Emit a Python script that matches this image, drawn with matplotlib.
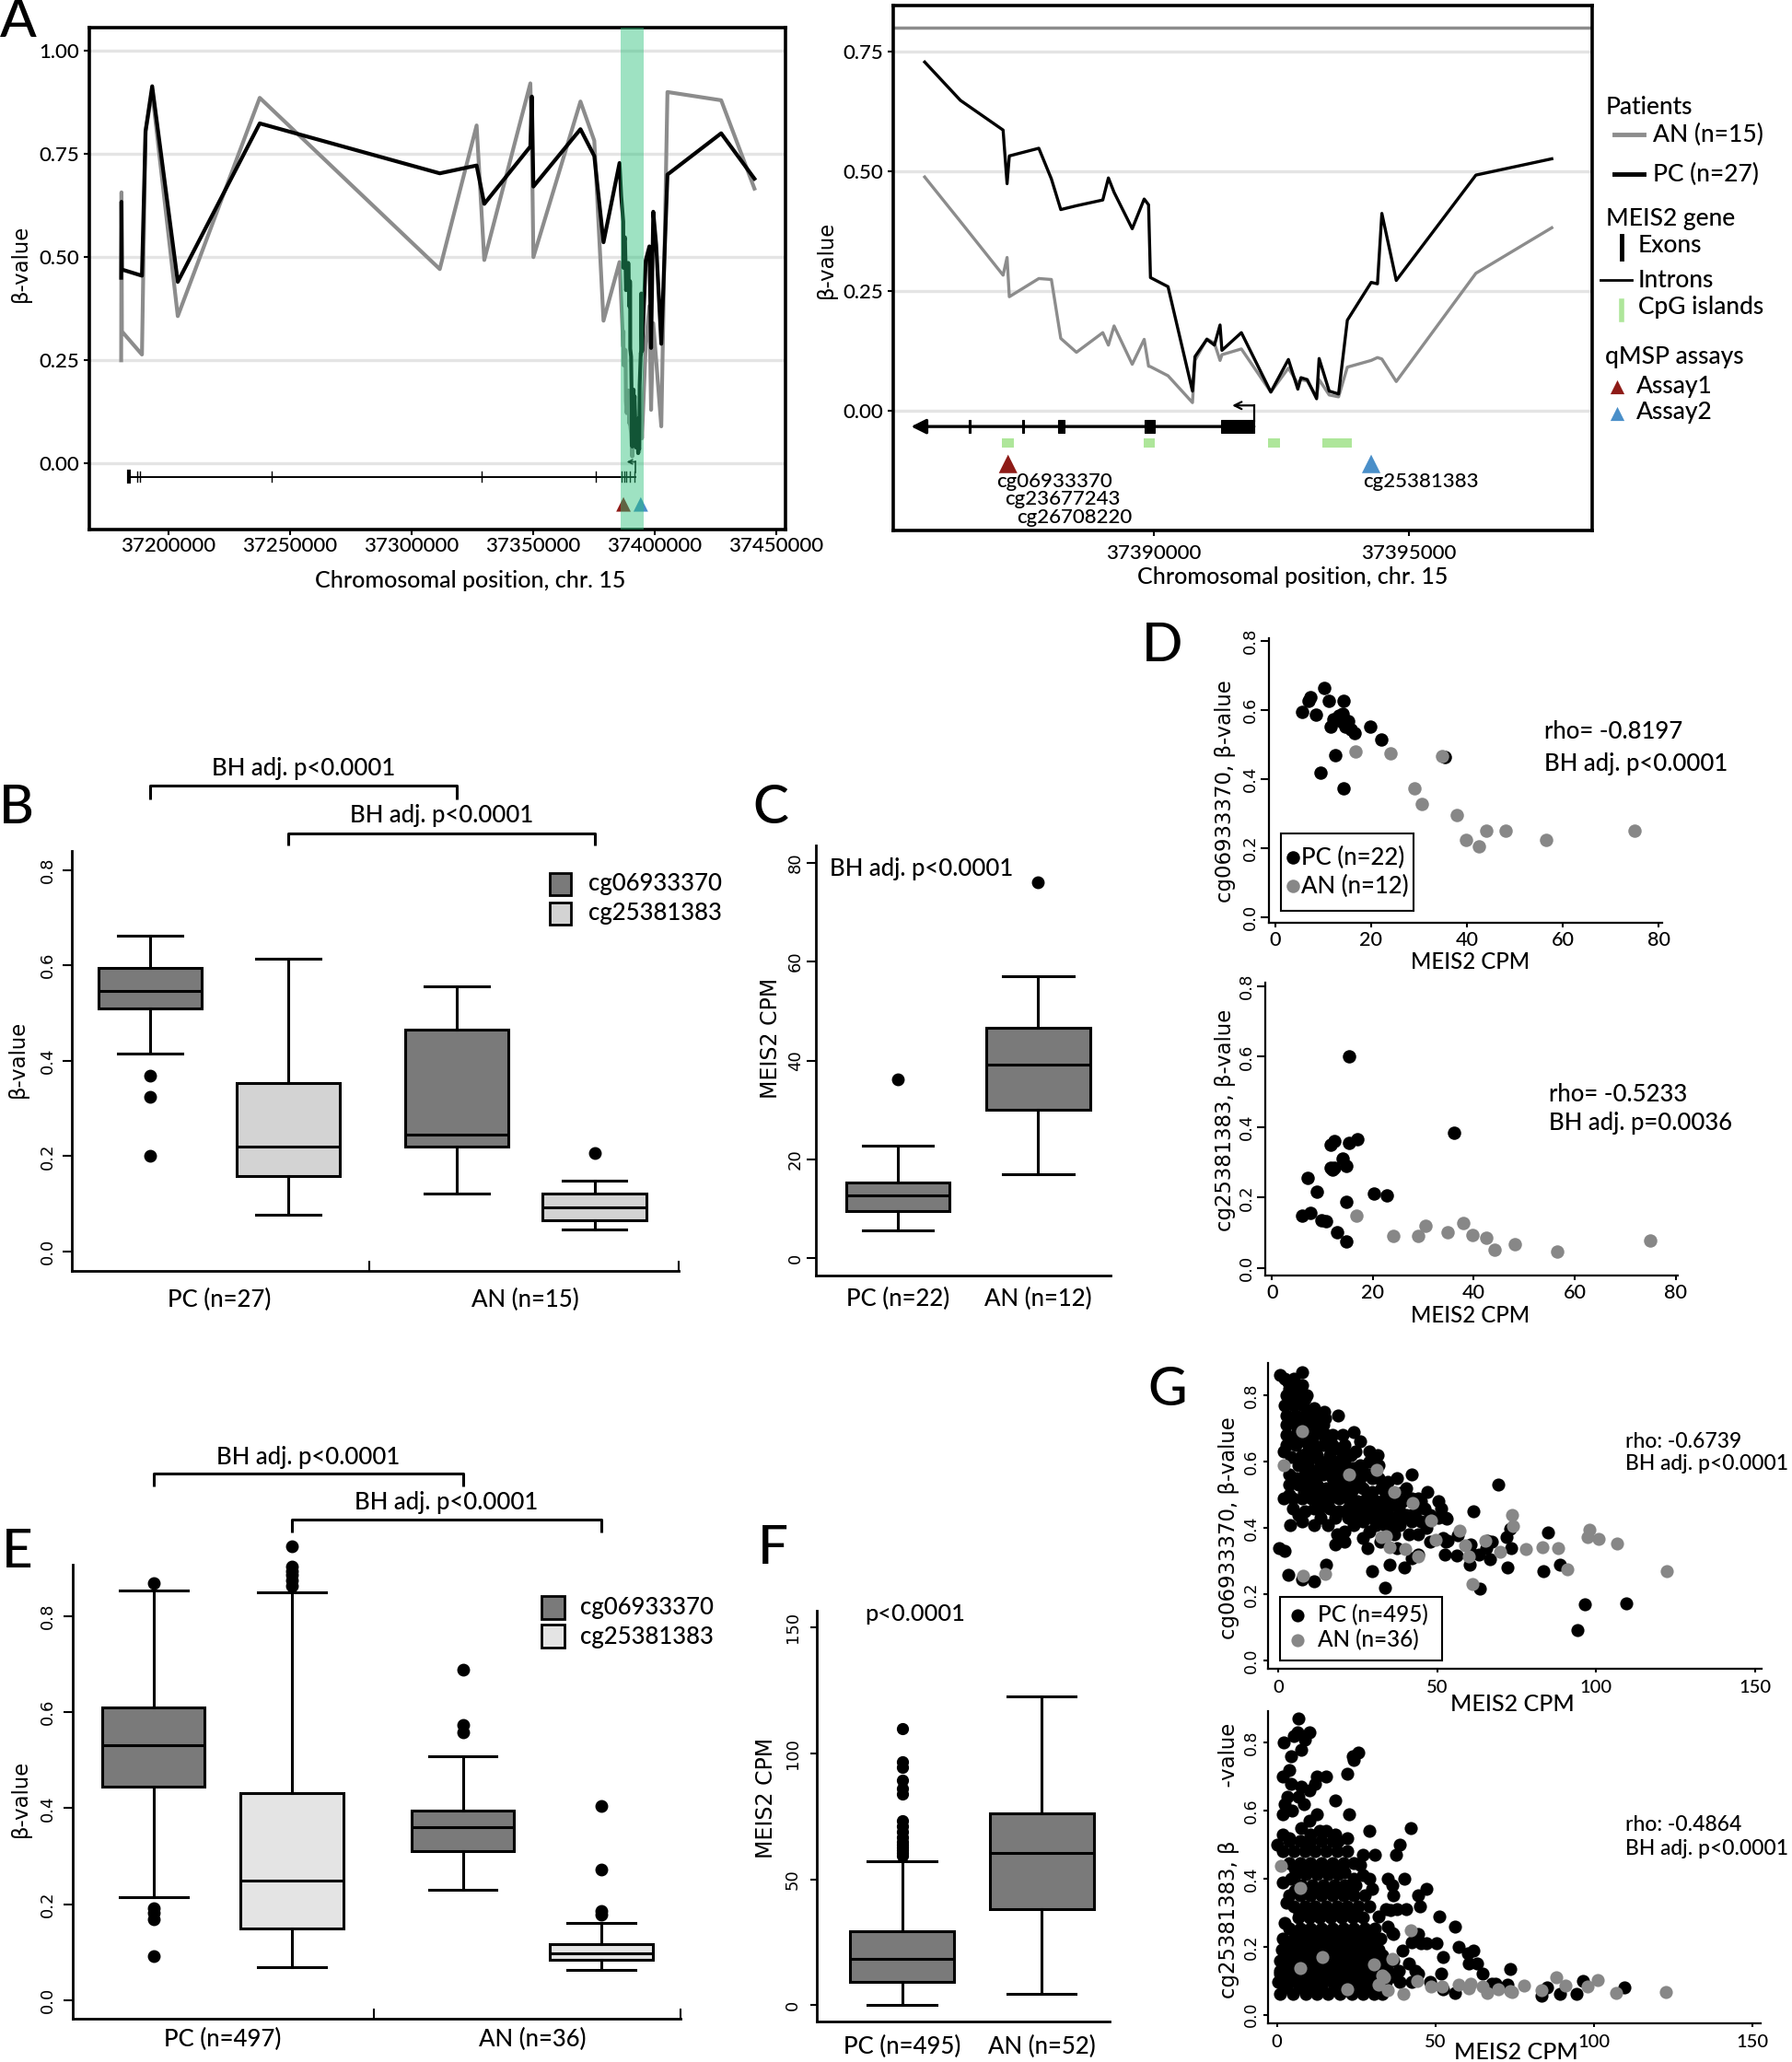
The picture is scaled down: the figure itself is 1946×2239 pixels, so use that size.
import matplotlib
matplotlib.use('Agg')
import matplotlib.pyplot as plt
from matplotlib import font_manager
from matplotlib.patches import Rectangle


def _has(name):
    try:
        font_manager.findfont(font_manager.FontProperties(family=name), fallback_to_default=False)
        return True
    except Exception:
        return False


HUM = ['Lato', 'DejaVu Sans'] if _has('Lato') else ['DejaVu Sans']
DV = ['DejaVu Sans']
plt.rcParams['font.family'] = HUM
plt.rcParams['font.weight'] = 'medium'

# ======================= DATA =======================
# ---- Panel A: 450K probes along MEIS2, chr. 15 ----
probe_pos = [37180500, 37180630, 37180800, 37189050, 37190530, 37193260, 37203790, 37237500,
             37311570, 37326730, 37329880, 37348830, 37349460, 37350090, 37369450, 37375140, 37378930,
             37385516, 37386216, 37387052, 37387130, 37387174, 37387752, 37387998, 37388182, 37388489,
             37389005, 37389115, 37389226, 37389582, 37389816, 37389902, 37389939, 37390283, 37390762,
             37390811, 37391044, 37391192, 37391302, 37391339, 37391720, 37392297, 37392641, 37392826,
             37392887, 37393010, 37393194, 37393243, 37393440, 37393624, 37393796, 37394263, 37394386,
             37394472, 37394754, 37396314, 37397801,
             37398500, 37399400, 37400600, 37402700, 37405240, 37427340, 37441020]
pc_beta = [0.45, 0.634, 0.47, 0.455, 0.805, 0.914, 0.44, 0.824, 0.703, 0.722, 0.629, 0.768, 0.889,
           0.671, 0.81, 0.745, 0.536,
           0.728, 0.648, 0.586, 0.474, 0.532, 0.548, 0.484, 0.420, 0.428, 0.440, 0.486, 0.456, 0.380,
           0.442, 0.430, 0.278, 0.259, 0.041, 0.113, 0.149, 0.137, 0.179, 0.126, 0.163, 0.039, 0.107,
           0.045, 0.069, 0.065, 0.025, 0.109, 0.041, 0.035, 0.189, 0.268, 0.265, 0.412, 0.272, 0.492, 0.526,
           0.28, 0.61, 0.53, 0.29, 0.70, 0.80, 0.69]
an_beta = [0.25, 0.657, 0.32, 0.264, 0.805, 0.90, 0.357, 0.886, 0.471, 0.819, 0.493, 0.921, 0.78,
           0.50, 0.877, 0.782, 0.346,
           0.488, 0.395, 0.283, 0.320, 0.238, 0.276, 0.274, 0.151, 0.122, 0.163, 0.137, 0.177, 0.097,
           0.149, 0.093, 0.092, 0.073, 0.017, 0.105, 0.150, 0.141, 0.105, 0.117, 0.129, 0.039, 0.089,
           0.057, 0.065, 0.062, 0.029, 0.065, 0.033, 0.029, 0.091, 0.105, 0.111, 0.108, 0.061, 0.287, 0.382,
           0.13, 0.34, 0.25, 0.09, 0.90, 0.88, 0.666]
meis2_exons = [(37183300, 37184300), (37186930, 37186970), (37188400, 37188440), (37242430, 37242470),
               (37328780, 37328820), (37375730, 37375770), (37386380, 37386420), (37387425, 37387465),
               (37388130, 37388250), (37389816, 37390025), (37391314, 37391966)]
meis2_tss = 37391966
cpg_islands = [(37387027, 37387260), (37389804, 37390025), (37392236, 37392469), (37393305, 37393882)]
assay_pos = [37387150, 37394263]
probe_labels = ['cg06933370', 'cg23677243', 'cg26708220', 'cg25381383']
probe_label_pos = [37386917, 37387089, 37387322, 37394103]
zoom_region = (37385870, 37395340)

# ---- Panel B: beta values (box order: PC-cg069, PC-cg253, AN-cg069, AN-cg253) ----
b_whislo = [0.416, 0.078, 0.122, 0.046]
b_q1 = [0.510, 0.158, 0.220, 0.066]
b_med = [0.546, 0.220, 0.245, 0.093]
b_q3 = [0.594, 0.354, 0.465, 0.121]
b_whishi = [0.662, 0.614, 0.556, 0.148]
b_fliers = [[0.369, 0.325, 0.201], [], [], [0.206]]
b_groups = ['PC (n=27)', 'AN (n=15)']

# ---- Panel C: MEIS2 CPM ----
c_whislo = [5.7, 16.9]
c_q1 = [9.5, 30.0]
c_med = [12.7, 39.1]
c_q3 = [15.3, 46.7]
c_whishi = [22.7, 57.1]
c_fliers = [[36.2], [76.0]]
c_groups = ['PC (n=22)', 'AN (n=12)']

# ---- Panel D: correlations ----
d1_pc_cpm = [5.6, 6.9, 7.4, 8.4, 10.2, 11.2, 11.5, 12.1, 12.6, 13.6, 14.0, 14.3, 14.3, 14.7, 15.2,
             16.6, 19.9, 22.2, 9.5, 35.4, 13.3, 15.7]
d1_pc_beta = [0.595, 0.628, 0.637, 0.586, 0.664, 0.628, 0.553, 0.573, 0.469, 0.569, 0.590, 0.628,
              0.374, 0.553, 0.567, 0.533, 0.551, 0.515, 0.420, 0.465, 0.583, 0.543]
d2_pc_cpm = [6.0, 7.6, 7.1, 8.9, 9.9, 10.7, 11.6, 11.6, 12.4, 12.4, 12.9, 14.0, 14.7, 14.7, 14.7,
             15.3, 15.3, 16.9, 20.3, 22.7, 36.0, 12.0]
d2_pc_beta = [0.149, 0.156, 0.257, 0.216, 0.137, 0.133, 0.284, 0.351, 0.360, 0.284, 0.103, 0.311,
              0.289, 0.189, 0.076, 0.356, 0.600, 0.367, 0.211, 0.207, 0.383, 0.280]
d_an_cpm = [16.7, 24.1, 29.0, 30.5, 34.8, 37.9, 39.8, 42.5, 44.1, 48.1, 56.5, 75.0]
d1_an_beta = [0.481, 0.476, 0.374, 0.327, 0.468, 0.296, 0.225, 0.205, 0.251, 0.251, 0.225, 0.251]
d2_an_beta = [0.149, 0.091, 0.091, 0.120, 0.103, 0.129, 0.093, 0.087, 0.053, 0.067, 0.047, 0.077]

# ---- Panel E: TCGA beta values ----
e_whislo = [0.215, 0.068, 0.229, 0.063]
e_q1 = [0.444, 0.149, 0.311, 0.085]
e_med = [0.531, 0.250, 0.360, 0.097]
e_q3 = [0.610, 0.432, 0.395, 0.116]
e_whishi = [0.854, 0.850, 0.509, 0.160]
e_fliers = [[0.869, 0.191, 0.182, 0.169, 0.091],
            [0.863, 0.874, 0.885, 0.894, 0.903, 0.945],
            [0.558, 0.573, 0.689],
            [0.179, 0.185, 0.272, 0.404]]
e_groups = ['PC (n=497)', 'AN (n=36)']

# ---- Panel F: TCGA MEIS2 CPM ----
f_whislo = [0.2, 4.5]
f_q1 = [9.4, 38.3]
f_med = [18.3, 60.6]
f_q3 = [29.3, 76.2]
f_whishi = [57.3, 122.6]
f_fliers = [[59.4, 60.6, 61.5, 62.7, 63.8, 64.9, 66.7, 68.8, 71.0, 73.4, 83.7, 85.9, 89.5, 94.5,
             96.6, 109.8], []]
f_groups = ['PC (n=495)', 'AN (n=52)']

# ---- Panel G: TCGA correlations (MEIS2 CPM, beta) ----
g1_pc = [
    (7.4, .87), (0.7, .86), (3.1, .84), (7.4, .83), (4.5, .81), (8.4, .79), (3.6, .78), (14.4, .75),
    (18.8, .74), (9.8, .75), (2.6, .74), (5.5, .73), (11.3, .72), (13.2, .70), (23.8, .69), (20.4, .68),
    (25.7, .66), (3.6, .67), (15.1, .68), (20.9, .65), (24.3, .63), (28.6, .63), (31.2, .62), (1.6, .63),
    (19.0, .64), (31.5, .59), (3.6, .56), (7.4, .62), (10.3, .61), (13.2, .59), (16.1, .62), (17.1, .57),
    (20.9, .60), (23.8, .58), (26.7, .57), (28.6, .60), (29.6, .55), (34.4, .54), (37.3, .55), (42.1, .56),
    (40.2, .52), (47.0, .51), (44.1, .49), (50.3, .48), (51.3, .46), (52.7, .43), (50.3, .43), (3.6, .50),
    (1.6, .49), (4.5, .46), (6.5, .44), (3.9, .41), (7.4, .42), (11.3, .41), (15.6, .41), (13.2, .43),
    (18.0, .43), (21.9, .46), (24.8, .45), (26.7, .42), (29.6, .43), (31.5, .44), (34.4, .46), (37.3, .47),
    (40.2, .44), (43.1, .43), (46.0, .46), (38.3, .41), (41.2, .38), (44.1, .38), (36.4, .38), (33.5, .41),
    (28.6, .39), (26.7, .37), (20.9, .39), (18.5, .38), (20.9, .36), (18.0, .35), (28.2, .34), (32.0, .36),
    (37.3, .34), (42.1, .31), (44.1, .32), (47.9, .36), (51.8, .37), (52.7, .36), (34.9, .29), (39.7, .28),
    (29.6, .27), (33.5, .22), (0.2, .34), (2.1, .33), (3.1, .26), (11.3, .24), (15.1, .29), (60.5, .35),
    (65.3, .34), (67.2, .36), (46.5, .40), (45.0, .42), (42.1, .42), (7.4, .245),
    (2.1, .85), (5.0, .85), (3.6, .82), (6.5, .82), (2.6, .80), (5.5, .80), (8.9, .80), (2.1, .77),
    (5.0, .77), (7.9, .77), (11.3, .76), (5.5, .74), (8.4, .74), (11.8, .74), (14.7, .73), (2.6, .71),
    (5.5, .71), (8.4, .71), (11.3, .70), (14.2, .71), (2.6, .68), (5.5, .68), (8.4, .68), (11.3, .68),
    (14.2, .68), (17.1, .68), (2.6, .65), (5.5, .65), (8.4, .66), (11.3, .65), (14.2, .65), (17.1, .65),
    (20.0, .63), (22.9, .62), (6.5, .59), (9.4, .59), (12.2, .62), (15.1, .60), (18.0, .60), (20.0, .58),
    (22.9, .57), (25.7, .59), (5.5, .55), (8.4, .56), (11.3, .56), (14.2, .56), (17.1, .55), (20.0, .55),
    (22.9, .55), (25.7, .55), (28.6, .56), (31.5, .55), (3.6, .53), (6.5, .53), (9.4, .53), (12.2, .53),
    (15.1, .52), (18.0, .52), (20.9, .52), (23.8, .52), (26.7, .52), (29.6, .51), (32.5, .52), (35.4, .51),
    (4.5, .49), (7.4, .49), (10.3, .49), (13.2, .49), (16.1, .49), (19.0, .49), (21.9, .49), (24.8, .48),
    (27.7, .49), (30.6, .48), (33.5, .49), (36.4, .49), (39.2, .48), (42.1, .49), (45.0, .48), (8.4, .45),
    (11.3, .46), (16.1, .46), (19.0, .45), (21.9, .43), (24.8, .43), (27.7, .45), (30.6, .46), (33.5, .43),
    (36.4, .43), (39.2, .43), (42.1, .44), (47.9, .44), (35.4, .41), (30.6, .41), (23.8, .41),
    (4.0, .615), (7.0, .60), (10.0, .575), (13.0, .575), (16.0, .58), (19.0, .575), (9.5, .635),
    (6.8, .695), (9.8, .69), (4.0, .725), (7.0, .725), (10.0, .72), (3.8, .79), (6.8, .79),
    (8.0, .505), (11.5, .51), (17.5, .505), (23.0, .505), (28.5, .50), (34.0, .505), (38.5, .505),
    (13.5, .465), (25.5, .465), (29.0, .465), (32.5, .465), (38.0, .46), (44.0, .46),
    (69.1, .531), (61.4, .451), (52.3, .319), (56.1, .318), (56.4, .377), (60.3, .290), (60.9, .324),
    (63.5, .216), (63.0, .319), (65.6, .361), (66.7, .306), (72.2, .282), (71.7, .372), (73.1, .398),
    (73.3, .340), (83.4, .270), (84.8, .386), (88.5, .289), (96.5, .169), (94.2, .093), (109.5, .173),
    (53.2, .361), (52.9, .429)]
g1_an = [
    (7.4, .692), (1.7, .589), (22.4, .562), (31.1, .575), (36.4, .510), (42.2, .474), (48.2, .423),
    (32.5, .374), (33.8, .376), (34.9, .342), (40.0, .337), (44.1, .314), (7.9, .256), (14.7, .261),
    (49.4, .364), (57.1, .391), (58.7, .347), (60.0, .315), (61.1, .230), (65.1, .361), (69.9, .329),
    (73.6, .438), (73.8, .405), (77.9, .336), (83.2, .343), (88.0, .340), (91.0, .276), (97.9, .395),
    (97.3, .373), (100.8, .368), (106.6, .352), (122.2, .269)]
g2_pc = [
    (6.8, .87), (5.4, .82), (6.6, .83), (10.2, .83), (8.8, .81), (7.8, .78), (2.2, .80), (4.4, .76),
    (3.9, .72), (2.0, .70), (4.4, .68), (7.8, .67), (10.2, .66), (12.6, .70), (15.5, .70), (12.1, .68),
    (3.4, .64), (6.8, .64), (8.6, .62), (2.5, .62), (2.0, .59), (4.9, .60), (12.6, .59), (10.2, .57),
    (22.3, .71), (23.8, .76), (25.7, .77), (24.2, .75), (18.4, .63), (22.8, .59), (29.1, .54), (42.2, .55),
    (38.8, .50), (37.6, .47), (31.0, .47), (27.2, .47), (26.2, .44), (19.4, .51), (22.3, .52), (15.5, .54),
    (18.4, .53), (10.7, .53), (13.6, .54), (7.8, .55), (2.0, .53), (0.1, .50), (3.9, .52), (2.0, .39),
    (4.4, .40), (34.9, .40), (36.4, .38), (36.8, .35), (40.2, .40), (47.0, .37), (44.6, .35), (45.1, .32),
    (34.4, .31), (37.8, .31), (40.7, .31), (51.2, .29), (56.2, .26), (50.4, .21), (57.2, .20), (60.1, .18),
    (62.0, .19), (52.3, .17), (63.0, .15), (64.9, .12), (67.8, .09), (70.2, .08), (2.5, .27), (3.0, .33),
    (30.1, .37), (29.1, .40), (27.2, .41), (24.2, .40), (21.3, .42), (32.0, .29), (34.9, .26), (36.4, .24),
    (39.7, .19), (41.7, .15), (43.6, .13), (45.5, .21), (47.0, .21), (36.8, .16), (1.1, .12),
    (73.6, .135), (51.8, .120), (72.6, .088), (68.8, .091), (85.2, .079), (89.1, .061), (94.4, .061),
    (96.4, .100), (109.4, .081), (83.3, .056), (56.2, .065), (52.3, .074), (48.4, .097), (44.6, .120),
    (44.6, .237), (42.6, .214), (36.8, .237), (35.9, .309), (60.5, .151),
    (3.9, .51), (7.3, .51), (10.7, .51), (14.1, .51), (17.5, .51),
    (2.0, .48), (5.4, .48), (8.8, .48), (12.1, .48), (15.5, .48), (18.9, .48), (22.3, .48),
    (3.9, .445), (7.3, .445), (10.7, .445), (14.1, .445), (17.5, .445), (20.9, .445), (24.2, .445),
    (5.9, .413), (9.2, .413), (12.6, .413), (16.0, .413), (19.4, .413),
    (7.8, .382), (11.2, .382), (14.6, .382), (18.0, .382), (21.3, .382), (24.7, .382),
    (3.9, .35), (7.3, .35), (10.7, .35), (14.1, .35), (17.5, .35), (20.9, .35), (24.2, .35), (27.6, .35),
    (5.4, .318), (8.8, .318), (12.1, .318), (15.5, .318), (18.9, .318), (22.3, .318), (25.7, .318), (29.1, .318),
    (6.8, .287), (10.2, .287), (13.6, .287), (17.0, .287), (20.4, .287), (23.8, .287), (27.2, .287),
    (3.9, .255), (7.3, .255), (10.7, .255), (14.1, .255), (17.5, .255), (20.9, .255), (24.2, .255),
    (27.6, .255), (31.0, .255),
    (2.0, .224), (5.4, .224), (8.8, .224), (12.1, .224), (15.5, .224), (18.9, .224), (22.3, .224),
    (25.7, .224), (29.1, .224), (32.5, .224),
    (1.5, .192), (4.9, .192), (8.3, .192), (11.7, .192), (15.1, .192), (18.4, .192), (21.8, .192),
    (25.2, .192), (28.6, .192), (32.0, .192),
    (1.0, .16), (4.4, .16), (7.8, .16), (11.2, .16), (14.6, .16), (18.0, .16), (21.3, .16), (24.7, .16),
    (28.1, .16), (31.5, .16), (34.9, .16),
    (1.0, .129), (4.4, .129), (7.8, .129), (11.2, .129), (14.6, .129), (18.0, .129), (21.3, .129),
    (24.7, .129), (28.1, .129), (31.5, .129), (34.9, .129), (38.3, .129),
    (0.5, .097), (3.9, .097), (7.3, .097), (10.7, .097), (14.1, .097), (17.5, .097), (20.9, .097),
    (24.2, .097), (27.6, .097), (31.0, .097), (34.4, .097), (38.8, .097), (42.6, .097),
    (3.0, .08), (7.0, .08), (10.5, .08), (14.0, .08), (18.0, .08), (21.5, .08), (25.0, .08), (29.0, .08),
    (32.0, .08),
    (1.0, .062), (5.0, .062), (9.0, .062), (12.5, .062), (16.0, .062), (20.0, .062), (23.5, .062),
    (27.0, .062), (30.5, .062), (33.3, .062),
    (5.6, .43), (9.0, .43), (12.4, .43), (15.8, .43), (19.2, .43),
    (5.6, .366), (9.0, .366), (12.4, .366), (15.8, .366), (19.2, .366), (22.6, .366),
    (7.1, .30), (10.5, .30), (13.9, .30), (17.3, .30), (20.7, .30), (24.1, .30),
    (5.6, .24), (9.0, .24), (12.4, .24), (15.8, .24), (19.2, .24), (22.6, .24), (26.0, .24), (29.4, .24),
    (3.2, .208), (6.6, .208), (10.0, .208), (13.4, .208), (16.8, .208), (20.2, .208), (23.6, .208),
    (27.0, .208), (30.4, .208),
    (2.7, .176), (6.1, .176), (9.5, .176), (12.9, .176), (16.3, .176), (19.7, .176), (23.1, .176),
    (26.5, .176), (29.9, .176), (33.3, .176),
    (2.7, .145), (6.1, .145), (9.5, .145), (12.9, .145), (16.3, .145), (19.7, .145), (23.1, .145),
    (26.5, .145), (29.9, .145), (33.3, .145),
    (2.2, .113), (5.6, .113), (9.0, .113), (12.4, .113), (15.8, .113), (19.2, .113), (22.6, .113),
    (26.0, .113), (29.4, .113), (32.8, .113), (36.6, .113)]
g2_an = [
    (1.4, .439), (7.3, .373), (42.2, .249), (14.4, .169), (7.5, .138), (30.7, .147), (36.3, .163),
    (33.9, .111), (33.1, .116), (32.0, .088), (34.9, .073), (22.1, .075), (40.0, .061), (44.1, .100),
    (48.5, .083), (57.2, .088), (61.0, .092), (64.9, .083), (66.4, .065), (69.7, .076), (73.6, .070),
    (78.0, .085), (83.3, .073), (88.1, .111), (91.0, .085), (97.8, .083), (101.2, .103), (107.0, .064),
    (122.5, .066), (74.2, .066), (60.5, .078), (52.0, .083)]

# ======================= STYLE =======================
GRAY_LINE = '#8c8c8c'
DARK_BOX = '#7a7a7a'
LIGHT_B = '#d3d3d3'
LIGHT_E = '#e4e4e4'
AN_PT = '#878787'
RED = '#8e1b17'
BLUE = '#4a8fc9'
CPG = '#aee69a'
BAND = (0.16, 0.75, 0.47)
GRID = '#e4e4e4'

W, H = 1946, 2239
fig = plt.figure(figsize=(W / 100, H / 100), dpi=100)
fig.patch.set_facecolor('white')


def add_ax(l, t, r, b):
    return fig.add_axes([l / W, 1 - b / H, (r - l) / W, (b - t) / H])


def open_axes(ax, lw=2.0):
    ax.spines['top'].set_visible(False)
    ax.spines['right'].set_visible(False)
    ax.spines['left'].set_linewidth(lw)
    ax.spines['bottom'].set_linewidth(lw)


def rot_yticks(ax, ticks, labels, size, pad, length):
    ax.set_yticks(ticks)
    ax.set_yticklabels(labels, rotation=90, va='center', family=DV, fontsize=size)
    ax.tick_params(axis='y', length=length, width=1.5, pad=pad)


def draw_boxes(ax, whislo, q1, med, q3, whishi, fliers, positions, width, capw, colors, ms):
    stats = [dict(whislo=whislo[i], q1=q1[i], med=med[i], q3=q3[i], whishi=whishi[i], fliers=fliers[i])
             for i in range(len(med))]
    bp = ax.bxp(stats, positions=positions, widths=width, capwidths=capw, patch_artist=True,
                manage_ticks=False,
                boxprops=dict(edgecolor='black', linewidth=2.2),
                medianprops=dict(color='black', linewidth=2.2),
                whiskerprops=dict(color='black', linewidth=2.2),
                capprops=dict(color='black', linewidth=2.2),
                flierprops=dict(marker='o', markerfacecolor='black', markeredgecolor='black',
                                markersize=ms, linestyle='none'))
    for p, c in zip(bp['boxes'], colors):
        p.set_facecolor(c)
    for f in bp['fliers']:
        f.set_clip_on(False)
    return bp


def bracket(ax, x0, x1, y, leg):
    ax.plot([x0, x0, x1, x1], [y - leg, y, y, y - leg], color='black', lw=2.2, clip_on=False,
            solid_capstyle='butt')


# ======================= PANEL A (left) =======================
a_yt = [0, 0.25, 0.5, 0.75, 1.0]
axL = add_ax(97, 30, 853, 575)
axL.set_xlim(37167400, 37453800)
axL.set_ylim(-0.16, 1.056)
for v in a_yt:
    axL.axhline(v, color=GRID, lw=2.4, zorder=0)
axL.plot(probe_pos, an_beta, color=GRAY_LINE, lw=3.0, zorder=2)
axL.plot(probe_pos, pc_beta, color='black', lw=3.0, zorder=3)
gy = -0.032
axL.plot([meis2_exons[0][0], meis2_tss], [gy, gy], color='black', lw=1.4, zorder=3)
for i, (s, e) in enumerate(meis2_exons):
    axL.plot([(s + e) / 2] * 2, [gy - 0.013, gy + 0.013], color='black', lw=3.0 if i == 0 else 1.0, zorder=3)
axL.plot([meis2_tss, meis2_tss], [gy + 0.01, 0.004], color='black', lw=1.2, zorder=3)
axL.annotate('', xy=(meis2_tss - 3500, 0.004), xytext=(meis2_tss, 0.004),
             arrowprops=dict(arrowstyle='->', lw=1.2, color='black', mutation_scale=8, shrinkA=0, shrinkB=0))
axL.scatter(assay_pos, [-0.099] * 2, marker='^', s=130, c=[RED, BLUE], lw=0, zorder=4)
axL.axvspan(zoom_region[0], zoom_region[1], color=BAND, alpha=0.45, lw=0, zorder=6)
for sp in axL.spines.values():
    sp.set_linewidth(2.6)
axL.set_yticks(a_yt, ['0.00', '0.25', '0.50', '0.75', '1.00'], fontsize=16, family=HUM)
axL.set_xticks([37200000, 37250000, 37300000, 37350000, 37400000, 37450000],
               ['37200000', '37250000', '37300000', '37350000', '37400000', '37450000'],
               fontsize=16, family=HUM)
axL.tick_params(axis='y', length=4, width=1.5, pad=4)
axL.tick_params(axis='x', length=4, width=1.5, pad=2)

# ======================= PANEL A (right) =======================
axR = add_ax(970, 6, 1729, 576)
axR.set_xlim(37384900, 37398592)
axR.set_ylim(-0.25, 0.846)
for v in a_yt[:4]:
    axR.axhline(v, color=GRID, lw=2.4, zorder=0)
axR.axhline(0.80, color=GRAY_LINE, lw=2.5, zorder=1)
sel = [i for i, p in enumerate(probe_pos) if 37385000 <= p <= 37398000]
axR.plot([probe_pos[i] for i in sel], [an_beta[i] for i in sel], color=GRAY_LINE, lw=2.4, zorder=2)
axR.plot([probe_pos[i] for i in sel], [pc_beta[i] for i in sel], color='black', lw=2.4, zorder=3)
gy2 = -0.033
axR.annotate('', xy=(37385250, gy2), xytext=(meis2_tss, gy2),
             arrowprops=dict(arrowstyle='-|>', lw=2.4, color='black', mutation_scale=24, shrinkA=0, shrinkB=0))
for s, e in meis2_exons:
    if e > 37384900:
        axR.add_patch(Rectangle((s, gy2 - 0.014), e - s, 0.028, facecolor='black', edgecolor='black', lw=0.8,
                                zorder=4))
for s, e in cpg_islands:
    axR.add_patch(Rectangle((s, -0.0767), e - s, 0.0192, facecolor=CPG, edgecolor='none', zorder=4))
axR.plot([meis2_tss, meis2_tss], [gy2 + 0.012, 0.011], color='black', lw=1.6, zorder=4)
axR.annotate('', xy=(37391540, 0.011), xytext=(meis2_tss, 0.011),
             arrowprops=dict(arrowstyle='->', lw=1.6, color='black', mutation_scale=14, shrinkA=0, shrinkB=0))
axR.scatter(assay_pos, [-0.111] * 2, marker='^', s=210, c=[RED, BLUE], lw=0, zorder=5)
for lab, xp, yp in zip(probe_labels, probe_label_pos, [-0.149, -0.185, -0.223, -0.149]):
    axR.text(xp, yp, lab, ha='left', va='center', fontsize=16, family=HUM)
for sp in axR.spines.values():
    sp.set_linewidth(2.6)
axR.set_yticks(a_yt[:4], ['0.00', '0.25', '0.50', '0.75'], fontsize=16, family=HUM)
axR.set_xticks([37390000, 37395000], ['37390000', '37395000'], fontsize=16, family=HUM)
axR.tick_params(axis='y', length=4, width=1.5, pad=4)
axR.tick_params(axis='x', length=4, width=1.5, pad=7)

# ======================= PANEL B =======================
axB = add_ax(77.6, 924, 737, 1379.6)
axB.set_xlim(0.518, 2.5)
axB.set_ylim(-0.04, 0.84)
pos4 = [0.775, 1.225, 1.775, 2.225]
draw_boxes(axB, b_whislo, b_q1, b_med, b_q3, b_whishi, b_fliers, pos4, 0.337, 0.21,
           [DARK_BOX, LIGHT_B, DARK_BOX, LIGHT_B], 9)
open_axes(axB)
rot_yticks(axB, [0, .2, .4, .6, .8], ['0.0', '0.2', '0.4', '0.6', '0.8'], 13, 5, 7)
axB.set_xticks([1, 2], b_groups, fontsize=18.5, family=HUM)
axB.set_xticks([1.49, 2.5], minor=True)
axB.tick_params(axis='x', which='major', length=0, pad=14)
axB.tick_params(axis='x', which='minor', direction='in', length=8, width=1.5)
bracket(axB, pos4[0], pos4[2], 0.977, 0.028)
bracket(axB, pos4[1], pos4[3], 0.877, 0.026)
axB.text((pos4[0] + pos4[2]) / 2, 1.012, 'BH adj. p<0.0001', ha='center', va='center', fontsize=18.5,
         family=HUM, clip_on=False)
axB.text((pos4[1] + pos4[3]) / 2, 0.915, 'BH adj. p<0.0001', ha='center', va='center', fontsize=18.5,
         family=HUM, clip_on=False)

# ======================= PANEL C =======================
axC = add_ax(886, 918, 1206, 1385)
axC.set_xlim(0.416, 2.515)
axC.set_ylim(-3.5, 83.5)
draw_boxes(axC, c_whislo, c_q1, c_med, c_q3, c_whishi, c_fliers, [1, 2], 0.737, 0.5,
           [DARK_BOX, DARK_BOX], 9)
open_axes(axC)
rot_yticks(axC, [0, 20, 40, 60, 80], ['0', '20', '40', '60', '80'], 13, 2.5, 7)
axC.set_xticks([1, 2], c_groups, fontsize=18.5, family=HUM)
axC.tick_params(axis='x', length=0, pad=9)

# ======================= PANEL D =======================
axD1 = add_ax(1377.5, 693, 1805, 1002)
axD1.set_xlim(-1.4, 80.7)
axD1.set_ylim(-0.016, 0.808)
axD1.scatter(d1_pc_cpm, d1_pc_beta, s=109, c='black', lw=0, zorder=3)
axD1.scatter(d_an_cpm, d1_an_beta, s=109, c=AN_PT, lw=0, zorder=4)
axD2 = add_ax(1374, 1067, 1822, 1385)
axD2.set_xlim(-1.3, 80.4)
axD2.set_ylim(-0.021, 0.81)
axD2.scatter(d2_pc_cpm, d2_pc_beta, s=109, c='black', lw=0, zorder=3)
axD2.scatter(d_an_cpm, d2_an_beta, s=109, c=AN_PT, lw=0, zorder=4)
for ax in (axD1, axD2):
    open_axes(ax, 1.6)
    rot_yticks(ax, [0, .2, .4, .6, .8], ['0.0', '0.2', '0.4', '0.6', '0.8'], 13, 1.5, 6.5)
    ax.set_xticks([0, 20, 40, 60, 80], ['0', '20', '40', '60', '80'], fontsize=15.5, family=HUM)
    ax.tick_params(axis='x', length=3.6, width=1.5, pad=3)

# ======================= PANEL E =======================
axE = add_ax(79, 1699, 739, 2191.7)
axE.set_xlim(0.515, 2.48)
axE.set_ylim(-0.038, 0.907)
pos4e = [0.776, 1.224, 1.776, 2.224]
draw_boxes(axE, e_whislo, e_q1, e_med, e_q3, e_whishi, e_fliers, pos4e, 0.332, 0.22,
           [DARK_BOX, LIGHT_E, DARK_BOX, LIGHT_E], 9)
open_axes(axE)
rot_yticks(axE, [0, .2, .4, .6, .8], ['0.0', '0.2', '0.4', '0.6', '0.8'], 13, 6, 7)
axE.set_xticks([1, 2], e_groups, fontsize=18.5, family=HUM)
axE.set_xticks([1.488, 2.48], minor=True)
axE.tick_params(axis='x', which='major', length=0, pad=7)
axE.tick_params(axis='x', which='minor', direction='in', length=8, width=1.5)
bracket(axE, pos4e[0], pos4e[2], 1.097, 0.027)
bracket(axE, pos4e[1], pos4e[3], 1.001, 0.027)
axE.text((pos4e[0] + pos4e[2]) / 2, 1.131, 'BH adj. p<0.0001', ha='center', va='center', fontsize=18.5,
         family=HUM, clip_on=False)
axE.text((pos4e[1] + pos4e[3]) / 2, 1.037, 'BH adj. p<0.0001', ha='center', va='center', fontsize=18.5,
         family=HUM, clip_on=False)

# ======================= PANEL F =======================
axF = add_ax(886.7, 1748.6, 1205, 2195)
axF.set_xlim(0.387, 2.488)
axF.set_ylim(-6.5, 156.8)
draw_boxes(axF, f_whislo, f_q1, f_med, f_q3, f_whishi, f_fliers, [1, 2], 0.746, 0.49,
           [DARK_BOX, DARK_BOX], 8.5)
open_axes(axF)
rot_yticks(axF, [0, 50, 100, 150], ['0', '50', '100', '150'], 13, 7, 5)
axF.set_xticks([1, 2], f_groups, fontsize=18.5, family=HUM)
axF.tick_params(axis='x', length=0, pad=11)

# ======================= PANEL G =======================
axG1 = add_ax(1376.6, 1480, 1913, 1812)
axG1.set_xlim(-3.3, 152)
axG1.set_ylim(-0.024, 0.897)
axG2 = add_ax(1376.6, 1858, 1912, 2196.7)
axG2.set_xlim(-2.9, 152.5)
axG2.set_ylim(-0.0245, 0.893)
for ax, pc, an in ((axG1, g1_pc, g1_an), (axG2, g2_pc, g2_an)):
    ax.scatter([p[0] for p in pc], [p[1] for p in pc], s=104, c='black', lw=0, zorder=3)
    ax.scatter([p[0] for p in an], [p[1] for p in an], s=104, c=AN_PT, lw=0, zorder=4)
    open_axes(ax, 1.6)
    rot_yticks(ax, [0, .2, .4, .6, .8], ['0.0', '0.2', '0.4', '0.6', '0.8'], 12.5, 3, 3.6)
    ax.set_xticks([0, 50, 100, 150], ['0', '50', '100', '150'], fontsize=14.5, family=HUM)
    ax.tick_params(axis='x', length=3, width=1.5, pad=5.5)

# ======================= OVERLAY: labels, legends =======================
ov = fig.add_axes([0, 0, 1, 1])
ov.set_xlim(0, W)
ov.set_ylim(H, 0)
ov.axis('off')


def T(x, y, s, size, family=HUM, ha='center', va='center', rot=0):
    ov.text(x, y, s, fontsize=size, family=family, ha=ha, va=va, rotation=rot)


# panel letters
for letter, (x, y) in zip('ABCDEFG', [(19.5, 23), (18, 877), (837, 878), (1262, 701), (18.5, 1685),
                                       (839, 1682), (1268, 1509)]):
    T(x, y, letter, 42)

# A axis labels
T(22, 286, 'β-value', 16.4, DV, rot=90)
T(897, 282, 'β-value', 16.4, DV, rot=90)
T(511, 631, 'Chromosomal position, chr. 15', 18)
T(1404, 626, 'Chromosomal position, chr. 15', 18)

# A legend
T(1744, 116, 'Patients', 19, ha='left')
ov.plot([1753, 1785], [146, 146], color=GRAY_LINE, lw=3.5)
T(1795, 146, 'AN (n=15)', 19, ha='left')
ov.plot([1753, 1785], [189, 189], color='black', lw=3.5)
T(1795, 189, 'PC (n=27)', 19, ha='left')
T(1744, 237, 'MEIS2 gene', 19, ha='left')
ov.plot([1761, 1761], [256, 281], color='black', lw=3.5)
T(1779, 267, 'Exons', 19, ha='left')
ov.plot([1738, 1772], [304, 304], color='black', lw=2)
T(1779, 304, 'Introns', 19, ha='left')
ov.plot([1761, 1761], [327, 347], color=CPG, lw=4)
T(1779, 334, 'CpG islands', 19, ha='left')
T(1743, 388, 'qMSP assays', 19, ha='left')
ov.scatter([1756], [420], marker='^', s=120, c=RED, lw=0)
T(1777, 419, 'Assay1', 19, ha='left')
ov.scatter([1756], [449], marker='^', s=120, c=BLUE, lw=0)
T(1777, 448, 'Assay2', 19, ha='left')

# B labels and legend
T(19, 1150, 'β-value', 16.4, DV, rot=90)
ov.add_patch(Rectangle((597, 948), 23, 24, facecolor=DARK_BOX, edgecolor='black', lw=2))
ov.add_patch(Rectangle((597, 980), 23, 24, facecolor=LIGHT_B, edgecolor='black', lw=2))
T(639, 960, 'cg06933370', 18.5, ha='left')
T(639, 992, 'cg25381383', 18.5, ha='left')

# C labels
T(836.5, 1127, 'MEIS2 CPM', 17, DV, rot=90)
T(1001, 944, 'BH adj. p<0.0001', 18.5)

# D labels
T(1330, 859, 'cg06933370, β-value', 16.4, DV, rot=90)
T(1330, 1216, 'cg25381383, β-value', 16.4, DV, rot=90)
T(1597, 1044, 'MEIS2 CPM', 17.3)
T(1597, 1428, 'MEIS2 CPM', 17.3)
T(1677, 795, 'rho= -0.8197', 18.5, ha='left')
T(1677, 829, 'BH adj. p<0.0001', 18.5, ha='left')
T(1682, 1188, 'rho= -0.5233', 18.5, ha='left')
T(1682, 1219, 'BH adj. p=0.0036', 18.5, ha='left')
ov.add_patch(Rectangle((1390.6, 905), 144, 84, facecolor='white', edgecolor='black', lw=1.5))
ov.scatter([1404], [931], s=109, c='black', lw=0)
ov.scatter([1404], [962], s=109, c=AN_PT, lw=0)
T(1412.6, 931, 'PC (n=22)', 18.5, ha='left')
T(1412.6, 962, 'AN (n=12)', 18.5, ha='left')

# E labels and legend
T(22, 1953, 'β-value', 16.4, DV, rot=90)
ov.add_patch(Rectangle((588, 1733), 25, 24.5, facecolor=DARK_BOX, edgecolor='black', lw=2))
ov.add_patch(Rectangle((588, 1764), 25, 25, facecolor=LIGHT_E, edgecolor='black', lw=2))
T(630, 1745, 'cg06933370', 18.5, ha='left')
T(630, 1777, 'cg25381383', 18.5, ha='left')

# F labels
T(832, 1952, 'MEIS2 CPM', 17, DV, rot=90)
T(994, 1753, 'p<0.0001', 18.3)

# G labels
T(1334, 1659, 'cg06933370, β-value', 16.4, DV, rot=90)
T(1334, 2020, 'cg25381383, β        -value', 16.4, DV, rot=90)
T(1642, 1850, 'MEIS2 CPM', 18)
T(1646, 2229, 'MEIS2 CPM', 18)
T(1765, 1566, 'rho: -0.6739', 16.5, ha='left')
T(1765, 1590, 'BH adj. p<0.0001', 16.5, ha='left')
T(1765, 1982, 'rho: -0.4864', 16.5, ha='left')
T(1765, 2007, 'BH adj. p<0.0001', 16.5, ha='left')
ov.add_patch(Rectangle((1390, 1734), 175.6, 69, facecolor='white', edgecolor='black', lw=1.5))
ov.scatter([1409], [1754], s=104, c='black', lw=0)
ov.scatter([1409], [1781], s=104, c=AN_PT, lw=0)
T(1430.7, 1754, 'PC (n=495)', 17.5, ha='left')
T(1430.7, 1781, 'AN (n=36)', 17.5, ha='left')

fig.savefig('out.png', dpi=100, facecolor='white')
